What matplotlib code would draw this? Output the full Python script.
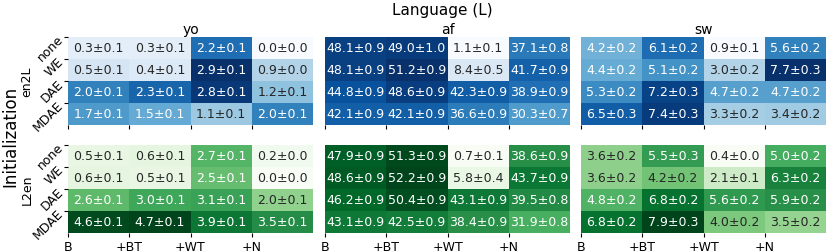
import matplotlib
matplotlib.use("Agg")
import matplotlib.pyplot as plt
import numpy as np

languages = ["yo", "af", "sw"]
inits = ["none", "WE", "DAE", "MDAE"]
methods = ["B", "+BT", "+WT", "+N"]
directions = ["en2L", "L2en"]

# en2L (top row)
en2l_yo_mean = [[0.3, 0.3, 2.2, 0.0], [0.5, 0.4, 2.9, 0.9], [2.0, 2.3, 2.8, 1.2], [1.7, 1.5, 1.1, 2.0]]
en2l_yo_std = [[0.1, 0.1, 0.1, 0.0], [0.1, 0.1, 0.1, 0.0], [0.1, 0.1, 0.1, 0.1], [0.1, 0.1, 0.1, 0.1]]
en2l_af_mean = [[48.1, 49.0, 1.1, 37.1], [48.1, 51.2, 8.4, 41.7], [44.8, 48.6, 42.3, 38.9], [42.1, 42.1, 36.6, 30.3]]
en2l_af_std = [[0.9, 1.0, 0.1, 0.8], [0.9, 0.9, 0.5, 0.9], [0.9, 0.9, 0.9, 0.9], [0.9, 0.9, 0.9, 0.7]]
en2l_sw_mean = [[4.2, 6.1, 0.9, 5.6], [4.4, 5.1, 3.0, 7.7], [5.3, 7.2, 4.7, 4.7], [6.5, 7.4, 3.3, 3.4]]
en2l_sw_std = [[0.2, 0.2, 0.1, 0.2], [0.2, 0.2, 0.2, 0.3], [0.2, 0.3, 0.2, 0.2], [0.3, 0.3, 0.2, 0.2]]

# L2en (bottom row)
l2en_yo_mean = [[0.5, 0.6, 2.7, 0.2], [0.6, 0.5, 2.5, 0.0], [2.6, 3.0, 3.1, 2.0], [4.6, 4.7, 3.9, 3.5]]
l2en_yo_std = [[0.1, 0.1, 0.1, 0.0], [0.1, 0.1, 0.1, 0.0], [0.1, 0.1, 0.1, 0.1], [0.1, 0.1, 0.1, 0.1]]
l2en_af_mean = [[47.9, 51.3, 0.7, 38.6], [48.6, 52.2, 5.8, 43.7], [46.2, 50.4, 43.1, 39.5], [43.1, 42.5, 38.4, 31.9]]
l2en_af_std = [[0.9, 0.9, 0.1, 0.9], [0.9, 0.9, 0.4, 0.9], [0.9, 0.9, 0.9, 0.8], [0.9, 0.9, 0.9, 0.8]]
l2en_sw_mean = [[3.6, 5.5, 0.4, 5.0], [3.6, 4.2, 2.1, 6.3], [4.8, 6.8, 5.6, 5.9], [6.8, 7.9, 4.0, 3.5]]
l2en_sw_std = [[0.2, 0.3, 0.0, 0.2], [0.2, 0.2, 0.1, 0.2], [0.2, 0.2, 0.2, 0.2], [0.2, 0.3, 0.2, 0.2]]

panels = [
    [(en2l_yo_mean, en2l_yo_std), (en2l_af_mean, en2l_af_std), (en2l_sw_mean, en2l_sw_std)],
    [(l2en_yo_mean, l2en_yo_std), (l2en_af_mean, l2en_af_std), (l2en_sw_mean, l2en_sw_std)],
]
cmaps = ["Blues", "Greens"]


def text_color(rgba):
    # same rule seaborn uses for annotation colour
    rgb = np.asarray(rgba[:3])
    rgb = np.where(rgb <= 0.03928, rgb / 12.92, ((rgb + 0.055) / 1.055) ** 2.4)
    lum = 0.2126 * rgb[0] + 0.7152 * rgb[1] + 0.0722 * rgb[2]
    return ".15" if lum > 0.408 else "w"


fig = plt.figure(figsize=(8.3, 2.53), dpi=100)
W, H = 830, 253
lefts = [68, 325, 581]
tops = [38, 146]
pw, ph = 245, 88

for r in range(2):
    cmap = plt.get_cmap(cmaps[r])
    for c in range(3):
        mean = np.array(panels[r][c][0])
        std = np.array(panels[r][c][1])
        ax = fig.add_axes([lefts[c] / W, 1 - (tops[r] + ph) / H, pw / W, ph / H])
        norm = plt.Normalize(mean.min(), mean.max())
        ax.pcolormesh(np.arange(5), np.arange(5), mean, cmap=cmap, norm=norm)
        ax.set_xlim(0, 4)
        ax.set_ylim(4, 0)
        for i in range(4):
            for j in range(4):
                col = text_color(cmap(norm(mean[i, j])))
                ax.text(j + 0.5, i + 0.5, f"{mean[i, j]:.1f}±{std[i, j]:.1f}",
                        ha="center", va="center", fontsize=9, color=col)
        for s in ax.spines.values():
            s.set_visible(False)
        ax.set_xticks(range(4))
        if r == 1:
            ax.set_xticklabels(methods, fontsize=9)
        else:
            ax.set_xticklabels([])
        if c == 0:
            ax.set_yticks(range(4))
            ax.set_yticklabels(inits, fontsize=9, rotation=45, ha="right", va="center",
                               rotation_mode="anchor")
        else:
            ax.set_yticks([])
        ax.tick_params(length=3, pad=2)
        if r == 0:
            ax.set_title(languages[c], fontsize=10, pad=3)
    fig.text(27 / W, 1 - (tops[r] + ph / 2) / H, directions[r], rotation=90,
             ha="center", va="center", fontsize=9)

fig.text(442 / W, 1 - 11 / H, "Language (L)", ha="center", va="center", fontsize=11)
fig.text(10 / W, 1 - 136 / H, "Initialization", rotation=90, ha="center", va="center", fontsize=12)

fig.savefig("out.png", dpi=100)
